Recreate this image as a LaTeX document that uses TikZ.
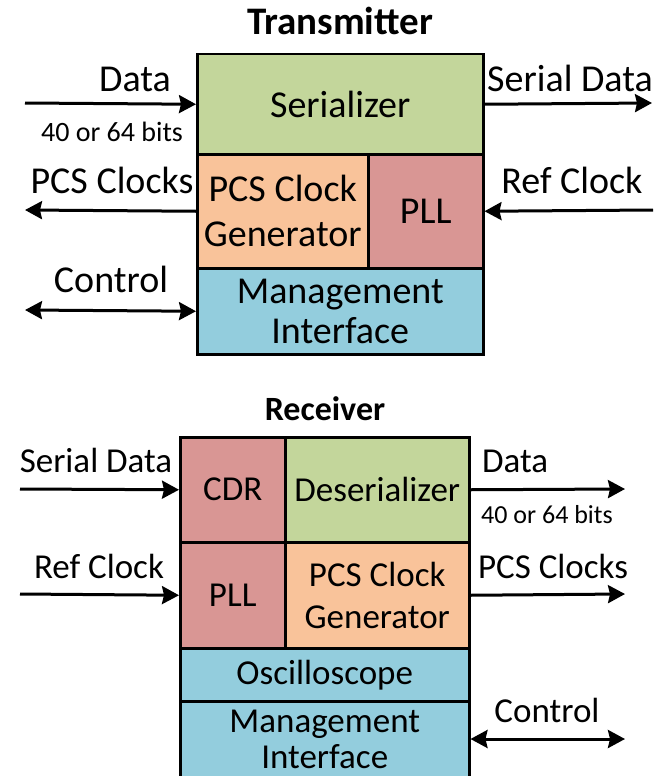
\documentclass[tikz,border=0pt]{standalone}
\usepackage{fontspec}
\setmainfont{Carlito}
\usetikzlibrary{arrows.meta}

% block fills
\definecolor{serGreen}{HTML}{C3D69B}
\definecolor{clkOrange}{HTML}{F9C39A}
\definecolor{pllRed}{HTML}{D99694}
\definecolor{mgmtBlue}{HTML}{93CDDD}

% type sizes
\newcommand\fsTx{\fontsize{38}{40}\selectfont}
\newcommand\fsRx{\fontsize{35}{36}\selectfont}
\newcommand\fsNote{\fontsize{28}{30}\selectfont}
\newcommand\fsNoteRx{\fontsize{26}{30}\selectfont}

\begin{document}
\begin{tikzpicture}[x=1pt,y=-1pt,
  block/.style={draw=black, line width=2.5pt, inner sep=0pt, align=center, anchor=north west},
  tipstyle/.style={line width=3pt},
  flow/.style={tipstyle, -{Stealth[length=17pt,width=18pt,inset=2pt]}},
  bothways/.style={tipstyle, {Stealth[length=17pt,width=18pt,inset=2pt]}-{Stealth[length=17pt,width=18pt,inset=2pt]}},
  lbl/.style={anchor=base, inner sep=0pt},
  lblw/.style={anchor=base west, inner sep=0pt},
  title/.style={anchor=base, inner sep=0pt}]

\useasboundingbox (0,0) rectangle (663,776);

% ---------------- Transmitter ----------------
\node[title, font=\bfseries\fontsize{39}{40}\selectfont] (txtitle) at (340,35) {Transmitter};

\node[block, fill=serGreen, minimum width=286pt, minimum height=100pt, font=\fsTx] (ser) at (196,53) {Serializer};
\node[block, fill=clkOrange, minimum width=171pt, minimum height=114pt, font=\fontsize{38}{45}\selectfont] (txpcs) at (196,153) {PCS Clock\\Generator};
\node[block, fill=pllRed, minimum width=115pt, minimum height=114pt, font=\fsTx] (txpll) at (367,153) {PLL};
\node[block, fill=mgmtBlue, minimum width=286pt, minimum height=86pt, font=\fsTx] (txmgmt) at (196,267) {Management\\Interface};

\coordinate (txdatain) at (25,103);
\coordinate (txserout) at (652,103);
\coordinate (txclkout) at (25,210);
\coordinate (txrefin) at (653,210);
\coordinate (txctl) at (25,310);

\draw[flow] (txdatain) -- (ser.west);
\draw[flow] (ser.east) -- (txserout);
\draw[flow] (txpcs.west) -- (txclkout);
\draw[flow] (txrefin) -- (txpll.east);
\draw[bothways] (txctl) -- (txmgmt.west);

\node[lbl, font=\fsTx] (txdatalbl) at (135,92) {Data};
\node[lbl, font=\fsNote] (txbitslbl) at (112,141) {40 or 64 bits};
\node[lbl, font=\fsTx] (txserlbl) at (570,92) {Serial Data};
\node[lbl, font=\fsTx] (txclklbl) at (112,193) {PCS Clocks};
\node[lbl, font=\fsTx] (txreflbl) at (572,193) {Ref Clock};
\node[lbl, font=\fsTx] (txctllbl) at (111,292) {Control};

% ---------------- Receiver ----------------
\node[title, font=\bfseries\fontsize{34}{36}\selectfont] (rxtitle) at (325,420) {Receiver};

\node[block, fill=pllRed, minimum width=105pt, minimum height=105pt, font=\fsRx] (cdr) at (179,436) {CDR};
\node[block, fill=serGreen, minimum width=184pt, minimum height=105pt, font=\fsRx] (des) at (284,436) {Deserializer};
\node[block, fill=pllRed, minimum width=105pt, minimum height=106pt, font=\fsRx] (rxpll) at (179,541) {PLL};
\node[block, fill=clkOrange, minimum width=184pt, minimum height=106pt, font=\fontsize{35}{42}\selectfont] (rxpcs) at (284,541) {PCS Clock\\Generator};
\node[block, fill=mgmtBlue, minimum width=289pt, minimum height=53pt, font=\fsRx] (osc) at (179,647) {Oscilloscope};
\node[block, fill=mgmtBlue, minimum width=289pt, minimum height=77pt, font=\fsRx] (rxmgmt) at (179,700) {Management\\Interface};

\coordinate (rxserin) at (20,489);
\coordinate (rxdataout) at (625,489);
\coordinate (rxrefin) at (20,594);
\coordinate (rxclkout) at (625,594);
\coordinate (rxctl) at (625,739);

\draw[flow] (rxserin) -- (cdr.west);
\draw[flow] (des.east) -- (rxdataout);
\draw[flow] (rxrefin) -- (rxpll.west);
\draw[flow] (rxpcs.east) -- (rxclkout);
\draw[bothways] (rxctl -| rxmgmt.east) -- (rxctl);

\node[lbl, font=\fsRx] (rxserlbl) at (96,472) {Serial Data};
\node[lblw, font=\fsRx] (rxdatalbl) at (482,472) {Data};
\node[lblw, font=\fsNoteRx] (rxbitslbl) at (481,523) {40 or 64 bits};
\node[lbl, font=\fsRx] (rxreflbl) at (99,578) {Ref Clock};
\node[lbl, font=\fsRx] (rxclklbl) at (553,578) {PCS Clocks};
\node[lbl, font=\fsRx] (rxctllbl) at (547,722) {Control};

\end{tikzpicture}
\end{document}
